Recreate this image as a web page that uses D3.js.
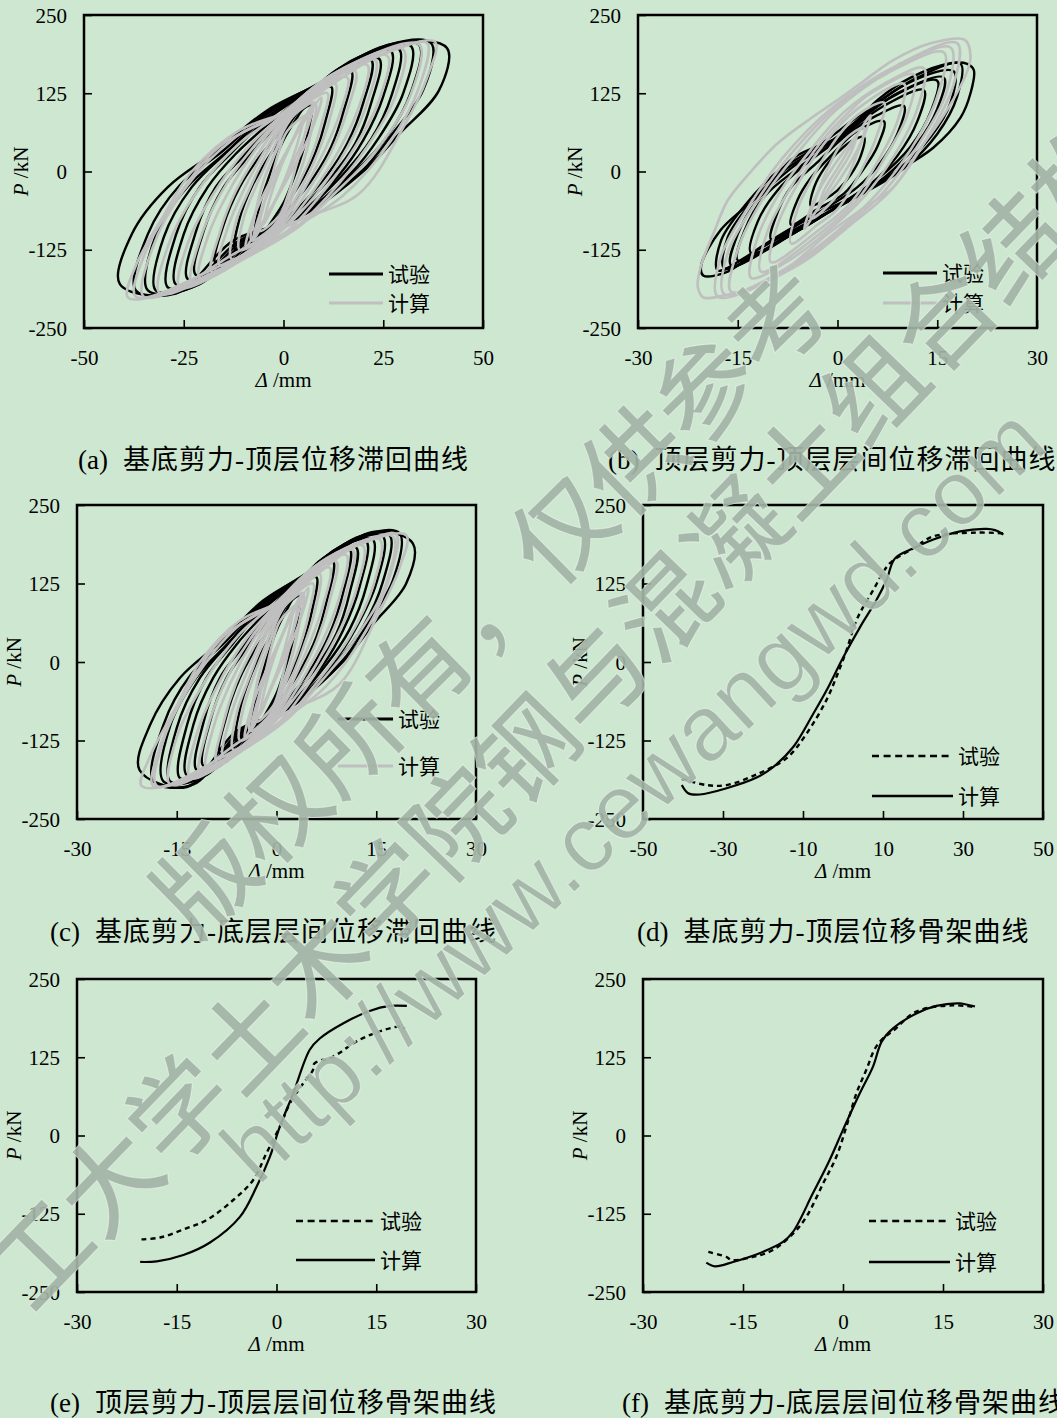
<!DOCTYPE html>
<html>
<head>
<meta charset="utf-8">
<script src="https://cdn.jsdelivr.net/npm/d3@7"></script>
<style>
  body { margin: 0; background: #cde7d0; }
  svg { display: block; }
</style>
</head>
<body>
<svg id="fig" width="1057" height="1418"></svg>
<script>
// ---- data: [Δ (mm), P (kN)] ----

// (a) base shear - top displacement, hysteresis loops
var loopsA_test = [
  [[7,105],[6,60],[4,15],[2,-20],[0,-50],[-3,-80],[-5,-97],[-7,-100],[-6,-55],[-4,-15],[-2,20],[0,50],[3,82],[5,100]],
  [[12,135],[10.5,80],[8,30],[5,-10],[1,-50],[-3,-85],[-7,-115],[-12,-125],[-11,-75],[-8,-25],[-5,10],[-1,50],[3,90],[8,125]],
  [[17,160],[15,95],[12,40],[8,-5],[2,-55],[-4,-95],[-10,-135],[-17,-147],[-15,-85],[-11,-25],[-7,15],[-2,55],[4,100],[11,145]],
  [[22,178],[20,110],[16,45],[11,-5],[3,-62],[-5,-100],[-13,-150],[-22,-165],[-20,-95],[-15,-25],[-9,22],[-3,65],[5,115],[14,165]],
  [[24,180],[22,110],[18,45],[12,-8],[3,-66],[-6,-103],[-15,-158],[-24,-172],[-22,-97],[-17,-25],[-10,25],[-3,72],[6,122],[16,172]],
  [[27,192],[25,120],[20,50],[14,-5],[4,-68],[-7,-105],[-17,-165],[-27,-180],[-25,-100],[-19,-25],[-12,28],[-3,80],[7,130],[18,180]],
  [[29,195],[27,120],[22,52],[15,-4],[4,-69],[-8,-106],[-19,-172],[-29,-185],[-27,-102],[-21,-25],[-13,30],[-4,84],[8,135],[20,186]],
  [[32,200],[30,125],[24,55],[17,-2],[4,-70],[-9,-108],[-21,-180],[-32,-190],[-30,-105],[-23,-25],[-14,32],[-4,88],[9,140],[22,192]],
  [[34,202],[32,128],[26,56],[18,0],[4,-71],[-10,-109],[-23,-185],[-34,-190],[-32,-102],[-24,-24],[-14,33],[-4,92],[10,144],[24,198]],
  [[37,205],[35,130],[27,58],[20,3],[4,-72],[-11,-110],[-25,-190],[-37,-190],[-34,-100],[-26,-22],[-15,34],[-4,95],[11,148],[26,202]],
  [[41,197],[39,130],[29,60],[21,6],[4,-73],[-12.5,-110],[-27,-195],[-41,-180],[-38,-100],[-29,-25],[-16.5,34],[-4,98],[12.5,150],[29,205]]
];
var loopsA_calc = [
  [[5,85],[3.5,45],[0.5,-10],[-3,-60],[-5,-85],[-3.5,-45],[-0.5,10],[3,60]],
  [[7.5,108],[5.5,60],[1,-5],[-4,-70],[-7.5,-108],[-5.5,-60],[-1,5],[4,70]],
  [[9.5,118],[7,65],[2,0],[-5,-78],[-9.5,-120],[-7,-65],[-2,0],[5,78]],
  [[6,90],[5,50],[3,5],[1,-40],[-1,-70],[-6,-95],[-5,-55],[-3,-10],[-1,35],[1,65]],
  [[8,110],[7,65],[5,15],[2,-35],[0,-65],[-3,-90],[-8,-110],[-7,-65],[-5,-15],[-2,32],[0,65],[3,92]],
  [[11,125],[9.5,75],[7,25],[3,-30],[0,-70],[-4,-100],[-11,-125],[-10,-75],[-7,-25],[-3,30],[0,70],[5,105]],
  [[13,140],[11.5,82],[8.5,28],[4,-32],[0,-75],[-5,-108],[-13,-140],[-12,-82],[-8.5,-28],[-4,32],[0,75],[6,115]],
  [[16,150],[14,90],[10,30],[5,-30],[0,-80],[-6,-115],[-16,-150],[-14,-90],[-10,-30],[-5,30],[0,80],[7,125]],
  [[18,160],[16,98],[12,32],[6,-32],[0,-85],[-7,-122],[-18,-160],[-16,-98],[-12,-32],[-6,32],[0,85],[8,132]],
  [[21,170],[19,105],[14,35],[7,-35],[0,-90],[-8,-130],[-21,-170],[-19,-105],[-14,-35],[-7,35],[0,88],[9,140]],
  [[23,178],[21,110],[16,38],[8,-38],[0,-92],[-9,-135],[-23,-178],[-21,-110],[-16,-38],[-8,36],[0,90],[10,145]],
  [[26,185],[24,115],[18,40],[9,-40],[1,-95],[-10,-140],[-26,-185],[-24,-115],[-18,-40],[-9,38],[0,92],[11,150]],
  [[30,195],[28,120],[21,40],[11,-40],[2,-95],[-12,-145],[-31,-195],[-29,-120],[-22,-35],[-11,45],[0,95],[13,158]],
  [[34,203],[32,125],[24,40],[12,-40],[3,-92],[-14,-150],[-35,-200],[-33,-125],[-25,-30],[-12,55],[1,98],[15,165]],
  [[36,205],[34,135],[27,50],[15,-38],[3,-88],[-13,-142],[-37,-200],[-35,-135],[-27,-45],[-16,40],[1,97],[13,150],[28,195]],
  [[38,207],[36,150],[30,70],[19,-35],[4,-78],[-12,-130],[-28,-190],[-39,-201],[-37,-150],[-30,-70],[-23,0],[-11,66],[2,98],[10,130],[24,185]]
];

// (b) top-storey shear - top-storey drift, hysteresis loops
var loopsB_test = [
  [[4,55],[3.5,25],[2,-5],[0,-30],[-2,-45],[-4,-55],[-3.5,-25],[-2,5],[0,30],[2,48]],
  [[7,80],[6,40],[4,5],[1,-35],[-3,-60],[-7,-85],[-6,-45],[-4,-10],[-1,25],[3,65]],
  [[10,105],[9,60],[6.5,15],[3,-25],[-2,-60],[-6,-85],[-10,-108],[-9,-65],[-7,-25],[-3,15],[1,55],[6,90]],
  [[13,130],[12,80],[9,25],[5,-20],[0,-55],[-6,-95],[-13,-130],[-12,-80],[-9,-30],[-5,10],[0,50],[7,105]],
  [[15,145],[14,95],[11,40],[6,-12],[0.5,-52],[-6,-95],[-15,-142],[-14,-95],[-11,-40],[-6,5],[0,52],[8,118]],
  [[16,150],[15,100],[12,45],[7,-10],[1,-50],[-6,-95],[-16,-150],[-15,-100],[-12,-45],[-7,5],[0,55],[9,125]],
  [[17.5,160],[17,110],[14,55],[9,2],[2,-45],[-6,-92],[-17,-155],[-16.5,-105],[-13,-50],[-8,2],[-1,48],[10,138]],
  [[18.5,172],[18,120],[15,60],[10,5],[3,-40],[-6,-90],[-12,-125],[-18,-158],[-17.5,-110],[-14,-55],[-9,0],[-3,40],[4,95],[12,150]],
  [[20.5,162],[20,125],[18.5,86],[14.4,38],[8.4,-3],[3.5,-35],[-4,-73],[-11.6,-121],[-16.5,-160],[-20.2,-166],[-20.5,-150],[-17.6,-94],[-14,-58],[-10.5,-25],[-6.6,22],[1,60],[6,114],[11,150],[17,173],[19.5,172]]
];
var loopsB_calc = [
  [[3,60],[2,30],[0,-5],[-2,-40],[-3,-62],[-2,-30],[0,5],[2,40]],
  [[5,90],[3.5,45],[0.5,-10],[-3,-60],[-5,-92],[-3.5,-45],[-0.5,10],[3,60]],
  [[4,70],[3,30],[1,-20],[-1,-50],[-4,-75],[-3,-35],[-1,15],[1,50]],
  [[7,110],[6,60],[3.5,0],[0,-60],[-3,-85],[-7,-115],[-6,-60],[-3.5,-5],[0,55],[3,90]],
  [[10,140],[9,80],[6,15],[2,-50],[-3,-95],[-10,-145],[-9,-85],[-6,-20],[-2,45],[3,100]],
  [[11.5,155],[10.5,90],[7,20],[3,-45],[-2.5,-98],[-11.5,-160],[-10.5,-95],[-7,-25],[-3,40],[2,98],[5,125]],
  [[13,165],[12,100],[8.5,25],[4,-40],[-2,-100],[-7,-140],[-13,-170],[-12,-105],[-8.5,-30],[-4,35],[1,95],[7,140]],
  [[16,190],[15,120],[11,35],[6,-35],[0,-95],[-7,-150],[-16,-192],[-15,-125],[-11,-40],[-6,30],[0,100],[8,160]],
  [[17,198],[16.5,130],[12,40],[7,-32],[1,-90],[-6.5,-150],[-17,-196],[-16.5,-130],[-12,-45],[-7,28],[-0.5,100],[8.5,165]],
  [[18,205],[17.5,140],[13,45],[8,-30],[2,-85],[-6,-150],[-18,-200],[-17.5,-135],[-13,-50],[-8,25],[-1,100],[9,170]],
  [[19.2,210],[20,185],[19.5,160],[16,90],[12,30],[8.4,-25],[3,-65],[-1.5,-100],[-7,-150],[-11.6,-180],[-17,-198],[-20.2,-201],[-21,-185],[-20.6,-153],[-18.5,-95],[-16.5,-46],[-13,0],[-9,45],[-4,85],[0,114],[4,145],[8.4,178],[14,205]]
];

// (c) base shear - first-storey drift, hysteresis loops
var loopsC_test = [
  [[3.5,105],[3,60],[2,15],[1,-20],[0,-50],[-1.5,-80],[-2.5,-97],[-3.5,-100],[-3,-55],[-2,-15],[-1,20],[0,50],[1.5,82],[2.5,100]],
  [[6,135],[5.3,80],[4,30],[2.5,-10],[0.5,-50],[-1.5,-85],[-3.5,-115],[-6,-125],[-5.5,-75],[-4,-25],[-2.5,10],[-0.5,50],[1.5,90],[4,125]],
  [[8.5,160],[7.5,95],[6,40],[4,-5],[1,-55],[-2,-95],[-5,-135],[-8.5,-147],[-7.5,-85],[-5.5,-25],[-3.5,15],[-1,55],[2,100],[5.5,145]],
  [[11,180],[10,110],[8,45],[5.5,-5],[1.5,-62],[-2.5,-100],[-6.5,-150],[-11,-165],[-10,-95],[-7.5,-25],[-4.5,22],[-1.5,65],[2.5,115],[7,165]],
  [[12,182],[11,110],[9,45],[6,-8],[1.5,-66],[-3,-103],[-7.5,-158],[-12,-172],[-11,-97],[-8.5,-25],[-5,25],[-1.5,72],[3,122],[8,172]],
  [[13.5,192],[12.5,120],[10,50],[7,-5],[2,-68],[-3.5,-105],[-8.5,-165],[-13.5,-180],[-12.5,-100],[-9.5,-25],[-6,28],[-1.5,80],[3.5,130],[9,180]],
  [[14.5,195],[13.5,120],[11,52],[7.5,-4],[2,-69],[-4,-106],[-9.5,-172],[-14.5,-185],[-13.5,-102],[-10.5,-25],[-6.5,30],[-2,84],[4,135],[10,186]],
  [[16,200],[15,125],[12,55],[8.5,-2],[2,-70],[-4.5,-108],[-10.5,-180],[-16,-190],[-15,-105],[-11.5,-25],[-7,32],[-2,88],[4.5,140],[11,192]],
  [[17,202],[16,128],[13,56],[9,0],[2,-71],[-5,-109],[-11.5,-185],[-17,-190],[-16,-102],[-12,-24],[-7,33],[-2,92],[5,144],[12,198]],
  [[18.5,205],[17.5,130],[13.5,58],[10,3],[2,-72],[-5.5,-110],[-12.5,-195],[-18.5,-190],[-17,-100],[-13,-22],[-7.5,34],[-2,95],[5.5,148],[13,202]],
  [[20.5,189],[19.5,125],[14.5,60],[10.5,6],[2,-73],[-6,-110],[-13.5,-199],[-20.6,-172],[-19,-100],[-14.5,-25],[-8.2,34],[-2,98],[6.2,150],[14.5,207]]
];
var loopsC_calc = [
  [[2.5,85],[1.8,45],[0.3,-10],[-1.5,-60],[-2.5,-85],[-1.8,-45],[-0.3,10],[1.5,60]],
  [[3.8,108],[2.8,60],[0.5,-5],[-2,-70],[-3.8,-108],[-2.8,-60],[-0.5,5],[2,70]],
  [[4.8,118],[3.5,65],[1,0],[-2.5,-78],[-4.8,-120],[-3.5,-65],[-1,0],[2.5,78]],
  [[3,90],[2.5,50],[1.5,5],[0.5,-40],[-0.5,-70],[-3,-95],[-2.5,-55],[-1.5,-10],[-0.5,35],[0.5,65]],
  [[4,110],[3.5,65],[2.5,15],[1,-35],[0,-65],[-1.5,-90],[-4,-110],[-3.5,-65],[-2.5,-15],[-1,32],[0,65],[1.5,92]],
  [[5.5,125],[4.8,75],[3.5,25],[1.5,-30],[0,-70],[-2,-100],[-5.5,-125],[-5,-75],[-3.5,-25],[-1.5,30],[0,70],[2.5,105]],
  [[6.5,140],[5.8,82],[4.2,28],[2,-32],[0,-75],[-2.5,-108],[-6.5,-140],[-6,-82],[-4.2,-28],[-2,32],[0,75],[3,115]],
  [[8,150],[7,90],[5,30],[2.5,-30],[0,-80],[-3,-115],[-8,-150],[-7,-90],[-5,-30],[-2.5,30],[0,80],[3.5,125]],
  [[9,160],[8,98],[6,32],[3,-32],[0,-85],[-3.5,-122],[-9,-160],[-8,-98],[-6,-32],[-3,32],[0,85],[4,132]],
  [[10.5,170],[9.5,105],[7,35],[3.5,-35],[0,-90],[-4,-130],[-10.5,-170],[-9.5,-105],[-7,-35],[-3.5,35],[0,88],[4.5,140]],
  [[11.5,178],[10.5,110],[8,38],[4,-38],[0,-92],[-4.5,-135],[-11.5,-178],[-10.5,-110],[-8,-38],[-4,36],[0,90],[5,145]],
  [[13,185],[12,115],[9,40],[4.5,-40],[0.5,-95],[-5,-140],[-13,-185],[-12,-115],[-9,-40],[-4.5,38],[0,92],[5.5,150]],
  [[15.5,195],[14.5,120],[11,40],[5.5,-40],[1,-95],[-6,-145],[-16,-195],[-15,-120],[-11,-35],[-5.5,45],[0,95],[6.5,158]],
  [[17.5,200],[16.5,125],[12,40],[6,-40],[1.5,-92],[-7,-150],[-18,-197],[-17,-125],[-12.5,-30],[-6,55],[0.5,98],[7.5,165]],
  [[18,203],[17,135],[13.5,50],[7.5,-38],[1.5,-88],[-6.5,-142],[-18.5,-198],[-17.5,-135],[-13.5,-45],[-8,40],[0.5,97],[6.5,150],[14,195]],
  [[19.5,202],[18.5,150],[15,70],[9.5,-35],[2,-78],[-6,-130],[-14,-190],[-20.3,-197],[-19,-150],[-15,-70],[-11.5,0],[-5.5,66],[1,98],[5,130],[12,185]]
];

// (d) base shear - top displacement, skeleton curves
var skelD_test = [[-40.3,-186],[-34.1,-196],[-29.1,-196],[-21.6,-179],[-14.1,-153],[-9.1,-114],[-4.1,-60],[-1.6,-23],[0.9,19],[3.4,67],[7.6,115],[11.7,157],[17.6,181],[22.6,200],[33.4,206],[40.1,205]];
var skelD_calc = [[-40.3,-196],[-38.7,-209],[-35.8,-211],[-29.1,-201],[-21.6,-184],[-17.4,-167],[-12.4,-135],[-7.4,-82],[-4.1,-45],[0.1,8],[4.3,56],[8.4,99],[10.9,131],[13,165],[17.6,181],[22.6,195],[29.3,208],[35.9,212],[38,210],[40.1,203]];

// (e) top-storey shear - top-storey drift, skeleton curves
var skelE_test = [[-20.3,-166],[-17.5,-163],[-14,-150],[-10.5,-135],[-6.5,-103],[-3.5,-71],[-1.5,-28],[0.5,14],[2,51],[4,83],[5.5,105],[5.7,115],[8.5,126],[12.5,153],[16,168],[18.6,174],[19.3,171]];
var skelE_calc = [[-20.5,-202],[-18,-201],[-14,-191],[-10,-171],[-5.5,-130],[-3,-82],[-1,-34],[0.5,14],[2.5,67],[5,137],[6.5,155],[10,179],[14,199],[17,207],[19.6,207]];

// (f) base shear - first-storey drift, skeleton curves
var skelF_test = [[-20.2,-186],[-17.5,-194],[-16.7,-199],[-13.5,-194],[-10.5,-183],[-7.5,-157],[-5.5,-130],[-3,-77],[-1,-34],[0.5,14],[2,67],[3.5,105],[4.8,139],[6,155],[7.5,167],[11,198],[16.5,208],[19.8,205]];
var skelF_calc = [[-20.5,-203],[-19.2,-209],[-16.5,-202],[-12.5,-188],[-9,-170],[-7.5,-154],[-4.5,-92],[-2,-39],[0,9],[2.5,67],[4.5,110],[5.8,150],[7.5,171],[11,195],[14,207],[17.5,211],[19,208],[19.8,206]];

// axes
var yTicks = [-250, -125, 0, 125, 250];
var xTicks50 = [-50, -25, 0, 25, 50];
var xTicks30 = [-30, -15, 0, 15, 30];
var xTicksD = [-50, -30, -10, 10, 30, 50];
var legendNames = ["试验", "计算"];
var captions = [
  ["(a)", "基底剪力-顶层位移滞回曲线"],
  ["(b)", "顶层剪力-顶层层间位移滞回曲线"],
  ["(c)", "基底剪力-底层层间位移滞回曲线"],
  ["(d)", "基底剪力-顶层位移骨架曲线"],
  ["(e)", "顶层剪力-顶层层间位移骨架曲线"],
  ["(f)", "基底剪力-底层层间位移骨架曲线"]
];
var watermark = ["版权所有，仅供参考", "工大学土木学院钢与混凝土组合结构", "http://www.cewangwd.com"];

// ---- layout ----
var panels = [
  {x0: 84, x1: 483, y0: 15, y1: 328, xd: [-50, 50], xt: xTicks50, kind: "hyst", test: loopsA_test, calc: loopsA_calc,
   leg: {x0: 329, x1: 383, y: 274, dy: 29}, cap: {x: 78, y: 469}},
  {x0: 638, x1: 1037, y0: 15, y1: 328, xd: [-30, 30], xt: xTicks30, kind: "hyst", test: loopsB_test, calc: loopsB_calc,
   leg: {x0: 883, x1: 937, y: 273, dy: 30}, cap: {x: 608, y: 469}},
  {x0: 77, x1: 476, y0: 505, y1: 819, xd: [-30, 30], xt: xTicks30, kind: "hyst", test: loopsC_test, calc: loopsC_calc,
   leg: {x0: 338, x1: 393, y: 719, dy: 47}, cap: {x: 50, y: 941}},
  {x0: 643, x1: 1043, y0: 505, y1: 819, xd: [-50, 50], xt: xTicksD, kind: "skel", test: skelD_test, calc: skelD_calc,
   leg: {x0: 872, x1: 953, y: 756, dy: 40}, cap: {x: 637, y: 941}},
  {x0: 77, x1: 476, y0: 979, y1: 1292, xd: [-30, 30], xt: xTicks30, kind: "skel", test: skelE_test, calc: skelE_calc,
   leg: {x0: 296, x1: 375, y: 1221, dy: 39}, cap: {x: 50, y: 1412}},
  {x0: 643, x1: 1043, y0: 979, y1: 1292, xd: [-30, 30], xt: xTicks30, kind: "skel", test: skelF_test, calc: skelF_calc,
   leg: {x0: 869, x1: 950, y: 1221, dy: 41}, cap: {x: 622, y: 1412}}
];

var svg = d3.select("#fig");
var serif = "'Liberation Serif', 'Times New Roman', serif";
var cjk = "'Liberation Serif', 'Noto Sans CJK SC', sans-serif";

svg.append("rect").attr("width", 1057).attr("height", 1418).attr("fill", "#cde7d0");

panels.forEach(function(p, i) {
  var x = d3.scaleLinear().domain(p.xd).range([p.x0, p.x1]);
  var y = d3.scaleLinear().domain([-250, 250]).range([p.y1, p.y0]);
  var g = svg.append("g");

  // curves
  if (p.kind == "hyst") {
    var loop = d3.line()
      .x(function(d) { return x(d[0]); })
      .y(function(d) { return y(d[1]); })
      .curve(d3.curveCatmullRomClosed.alpha(0.5));
    g.selectAll(".t").data(p.test).enter().append("path")
      .attr("d", loop).attr("fill", "none")
      .attr("stroke", "#000").attr("stroke-width", 2.4);
    g.selectAll(".c").data(p.calc).enter().append("path")
      .attr("d", loop).attr("fill", "none")
      .attr("stroke", "#bfbfbf").attr("stroke-width", 2.6);
  } else {
    var line = d3.line()
      .x(function(d) { return x(d[0]); })
      .y(function(d) { return y(d[1]); })
      .curve(d3.curveCatmullRom.alpha(0.5));
    g.append("path").datum(p.test).attr("d", line).attr("fill", "none")
      .attr("stroke", "#000").attr("stroke-width", 2.4).attr("stroke-dasharray", "5,4");
    g.append("path").datum(p.calc).attr("d", line).attr("fill", "none")
      .attr("stroke", "#000").attr("stroke-width", 2.2);
  }

  // axes, ticks inside
  var fmt = function(d) { return String(d); };
  var xa = g.append("g").attr("transform", "translate(0," + p.y1 + ")")
    .call(d3.axisBottom(x).tickValues(p.xt).tickSize(-8).tickPadding(22).tickFormat(fmt));
  var ya = g.append("g").attr("transform", "translate(" + p.x0 + ",0)")
    .call(d3.axisLeft(y).tickValues(yTicks).tickSize(-8).tickPadding(17).tickFormat(fmt));
  [xa, ya].forEach(function(a) {
    a.select(".domain").remove();
    a.selectAll("line").attr("stroke", "#000").attr("stroke-width", 1.6);
    a.selectAll("text").attr("font-family", serif).attr("font-size", 21).attr("fill", "#000");
  });
  ya.selectAll("text").attr("dy", "0.34em");

  g.append("rect")
    .attr("x", p.x0).attr("y", p.y0)
    .attr("width", p.x1 - p.x0).attr("height", p.y1 - p.y0)
    .attr("fill", "none").attr("stroke", "#000").attr("stroke-width", 2.5);

  // axis titles
  var xt = g.append("text")
    .attr("x", (p.x0 + p.x1) / 2).attr("y", p.y1 + 59)
    .attr("text-anchor", "middle").attr("font-family", serif).attr("font-size", 21);
  xt.append("tspan").attr("font-style", "italic").text("Δ");
  xt.append("tspan").text(" /mm");
  var yt = g.append("text")
    .attr("transform", "translate(" + (p.x0 - 56) + "," + ((p.y0 + p.y1) / 2) + ") rotate(-90)")
    .attr("text-anchor", "middle").attr("font-family", serif).attr("font-size", 21);
  yt.append("tspan").attr("font-style", "italic").text("P");
  yt.append("tspan").text(" /kN");

  // legend
  var lg = g.append("g");
  legendNames.forEach(function(name, k) {
    var ly = p.leg.y + k * p.leg.dy;
    var ln = lg.append("line")
      .attr("x1", p.leg.x0).attr("x2", p.leg.x1).attr("y1", ly).attr("y2", ly)
      .attr("stroke-width", p.kind == "hyst" ? 3 : 2.6);
    if (p.kind == "hyst") {
      ln.attr("stroke", k == 0 ? "#000" : "#bfbfbf");
    } else {
      ln.attr("stroke", "#000").attr("stroke-dasharray", k == 0 ? "7,4.6" : null);
    }
    lg.append("text").attr("x", p.leg.x1 + 5).attr("y", ly + 8)
      .attr("font-family", cjk).attr("font-size", 21).text(name);
  });

  // caption
  var cp = svg.append("text").attr("x", p.cap.x).attr("y", p.cap.y)
    .attr("font-family", cjk).attr("font-size", 27).attr("fill", "#000");
  cp.append("tspan").text(captions[i][0]);
  cp.append("tspan").attr("dx", 15).attr("letter-spacing", 1).text(captions[i][1]);
});

// watermark on top
var wm = svg.append("g").attr("fill", "#a2b4a5").attr("fill-opacity", 0.92)
  .attr("stroke", "#ffffff").attr("stroke-opacity", 0.45).attr("stroke-width", 1);
wm.append("text").attr("transform", "translate(196,942) rotate(-44.5)")
  .attr("font-family", "'Noto Sans CJK SC', sans-serif").attr("font-weight", 500)
  .attr("font-size", 100).text(watermark[0]);
wm.append("text").attr("transform", "translate(32,1315) rotate(-46)")
  .attr("font-family", "'Noto Sans CJK SC', sans-serif").attr("font-weight", 500)
  .attr("font-size", 100).text(watermark[1]);
wm.append("text").attr("transform", "translate(258,1187) rotate(-43)")
  .attr("font-family", "'Liberation Sans', Arial, sans-serif")
  .attr("font-size", 92).text(watermark[2]);
</script>
</body>
</html>
